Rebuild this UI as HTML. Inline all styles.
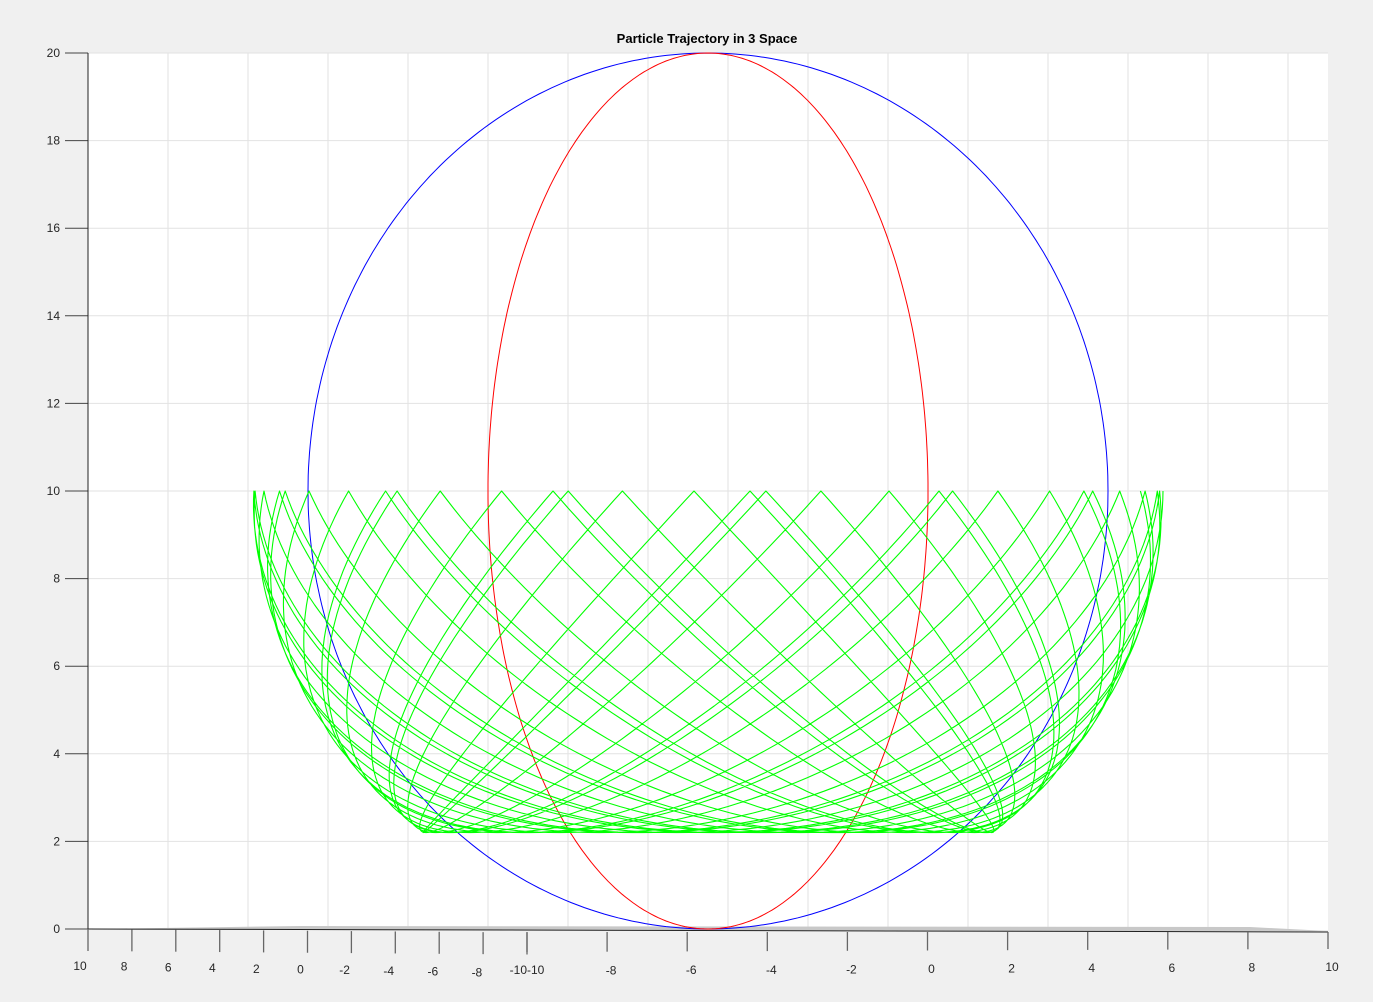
<!DOCTYPE html>
<html><head><meta charset="utf-8"><style>
body{margin:0;background:#f0f0f0;}
svg{display:block;font-family:"Liberation Sans",sans-serif;}
</style></head><body>
<svg id="chart" width="1373" height="1002" viewBox="0 0 1373 1002">
<rect x="0" y="0" width="1373" height="1002" fill="#f0f0f0"/>
<polygon points="88,53 1328,53 1328,931 88,929" fill="#ffffff"/>
<g id="grid"></g>
<g id="floor">
<polygon points="88,929 1328,931 1250,927 300,926" fill="#c8c8c8"/>
<line x1="88" y1="929" x2="1328" y2="932" stroke="#222" stroke-width="1"/>
</g>
<g id="axes"></g>
<g id="series"></g>
<text x="707" y="43" text-anchor="middle" font-size="13" font-weight="bold" fill="#000">Particle Trajectory in 3 Space</text>
</svg>
<script>
const zTicks=[0,2,4,6,8,10,12,14,16,18,20];
const xLeftTicks=[10,8,6,4,2,0,-2,-4,-6,-8,-10];
const xRightTicks=[-10,-8,-6,-4,-2,0,2,4,6,8,10];
const sphereRadius=[10];
const sphereCenterZ=[10];
const orbitSemiMajor=[10];
const orbitSemiMinor=[6.26];
const orbitCount=[15];
const precessionPerOrbit=[0.44];

const NS="http://www.w3.org/2000/svg";
const L=88,R=1328,T=53,B=929,CX=708;
const zy=z=>B-(z/20)*(B-T);
const sx=x=>CX+x*40;
const gx=x=>CX+x*45.5;
function el(tag,attrs,parent){const e=document.createElementNS(NS,tag);for(const k in attrs)e.setAttribute(k,attrs[k]);parent.appendChild(e);return e;}
const grid=document.getElementById('grid'),axes=document.getElementById('axes'),series=document.getElementById('series');

for(let gxp=168;gxp<R;gxp+=80){const l=el('line',{x1:gxp,y1:T,x2:gxp,y2:B,stroke:'#e2e2e2','stroke-width':1},grid);

}
zTicks.forEach(z=>{const y=zy(z);
const g=el('line',{x1:L,y1:y,x2:R,y2:y+ (z===0?2:0),stroke:'#e2e2e2','stroke-width':1},grid);


const t=el('line',{x1:L-23,y1:y,x2:L,y2:y,stroke:'#444','stroke-width':1},axes);


const tx=el('text',{x:L-28,y:y+4,'text-anchor':'end','font-size':12,fill:'#262626'},axes);tx.textContent=z;

});
el('line',{x1:L,y1:T,x2:L,y2:B,stroke:'#222','stroke-width':1},axes);

const lStart=88,lEnd=527;
xLeftTicks.forEach((v,i)=>{const x=lStart+i*(lEnd-lStart)/(xLeftTicks.length-1);const y0=929+i*0.35;
const t=el('line',{x1:x,y1:y0,x2:x,y2:y0+22,stroke:'#666','stroke-width':1.3},axes);


if(i<xLeftTicks.length-1){const tx=el('text',{x:x-8+i*0.2,y:970+i*0.7,'text-anchor':'middle','font-size':12,fill:'#262626'},axes);tx.textContent=v;

}});
const lbl=el('text',{x:527,y:974,'text-anchor':'middle','font-size':12,fill:'#262626'},axes);lbl.textContent='-10-10';


xRightTicks.forEach((v,i)=>{const x=527+i*(R-527)/(xRightTicks.length-1);
const t=el('line',{x1:x,y1:932,x2:x,y2:952-i*0.3,stroke:'#666','stroke-width':1.3},axes);


if(i>0){const tx=el('text',{x:x+4,y:975-i*0.4,'text-anchor':'middle','font-size':12,fill:'#262626'},axes);tx.textContent=v;

}});

const r=sphereRadius[0],cz=sphereCenterZ[0];
let pb=[],pr=[];
for(let i=0;i<=360;i++){const a=i*Math.PI/180;
pb.push(sx(r*Math.cos(a)).toFixed(1)+','+zy(cz+r*Math.sin(a)).toFixed(1));
pr.push((CX+r*22*Math.cos(a)).toFixed(1)+','+zy(cz+r*Math.sin(a)).toFixed(1));}
const blue=el('polyline',{points:pb.join(' '),fill:'none',stroke:'#0000ff','stroke-width':1},series);


const red=el('polyline',{points:pr.join(' '),fill:'none',stroke:'#ff0000','stroke-width':1},series);



const a=orbitSemiMajor[0],b=orbitSemiMinor[0],n=orbitCount[0],pp=precessionPerOrbit[0];
let pg=[];const per=240,steps=n*per;
for(let i=0;i<=steps;i++){const t=i/per*2*Math.PI;const ph=pp*i/per;
const ex=a*Math.cos(t),ey=b*Math.sin(t);
const X=ex*Math.cos(ph)-ey*Math.sin(ph),Y=ex*Math.sin(ph)+ey*Math.cos(ph);
const rr=Math.min(r*r,X*X+Y*Y);const z=cz-Math.sqrt(r*r-rr);
pg.push(gx(X).toFixed(1)+','+zy(z).toFixed(1));}
const green=el('polyline',{points:pg.join(' '),fill:'none',stroke:'#00ff00','stroke-width':1.1,'stroke-linejoin':'round'},series);


</script>
</body></html>
